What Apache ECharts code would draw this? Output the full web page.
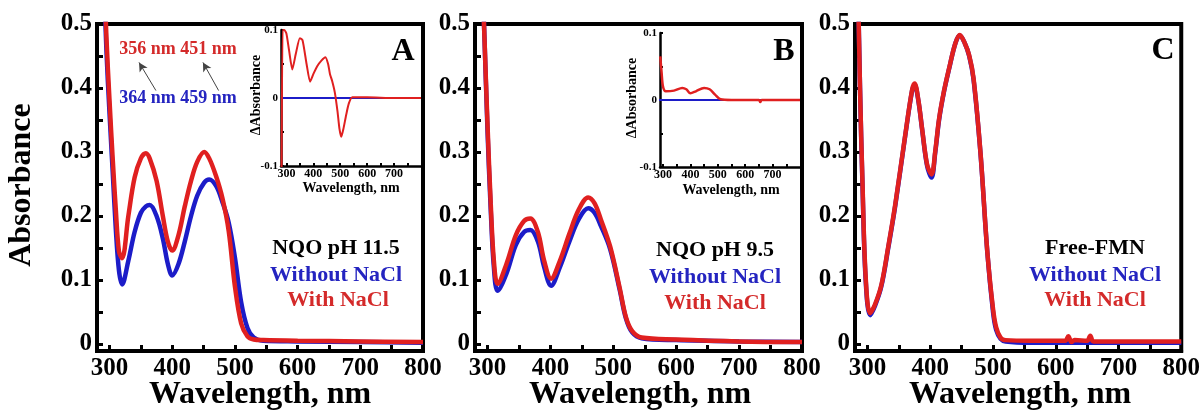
<!DOCTYPE html>
<html>
<head>
<meta charset="utf-8">
<script src="https://cdn.jsdelivr.net/npm/echarts@6/dist/echarts.min.js"></script>
<style>
  html, body { margin: 0; padding: 0; background: #fff; }
  #container { width: 1203px; height: 413px; }
</style>
</head>
<body>
<div id="container"></div>
<script>
var dom = document.getElementById("container");
var myChart = echarts.init(dom);
var FONT = '"Liberation Serif", "Times New Roman", serif';
var RED = '#e02020', BLUE = '#1c1cc8';

// panel A : NQO pH 11.5
var aWl   = [290,295,300,305,310,315,320,330,340,350,358,364,375,385,393,400,410,420,430,440,451,459,470,480,490,500,510,520,530,545,600,700,800];
var aBlue = [0.6,0.46,0.36,0.27,0.18,0.115,0.093,0.13,0.175,0.205,0.215,0.217,0.2,0.165,0.125,0.107,0.125,0.16,0.2,0.232,0.252,0.257,0.247,0.222,0.19,0.135,0.065,0.025,0.01,0.005,0.004,0.003,0.002];
var aRed  = [0.62,0.48,0.38,0.29,0.21,0.145,0.134,0.2,0.26,0.29,0.298,0.29,0.255,0.2,0.16,0.146,0.17,0.215,0.255,0.285,0.3,0.29,0.262,0.228,0.177,0.09,0.032,0.012,0.007,0.006,0.005,0.004,0.003];

// panel B : NQO pH 9.5
var bWl   = [290,295,300,305,310,316,330,345,358,368,380,390,401,415,430,445,460,470,480,495,510,520,530,545,600,700,800];
var bBlue = [0.62,0.48,0.33,0.21,0.12,0.083,0.11,0.155,0.175,0.178,0.16,0.12,0.091,0.12,0.16,0.195,0.212,0.205,0.185,0.148,0.085,0.04,0.018,0.009,0.006,0.004,0.003];
var bRed  = [0.62,0.48,0.34,0.22,0.13,0.094,0.125,0.17,0.192,0.196,0.175,0.13,0.102,0.13,0.172,0.21,0.229,0.22,0.195,0.152,0.088,0.042,0.02,0.01,0.007,0.004,0.003];

// panel C : free FMN
var cWl   = [284,288,292,297,304,312,322,333,344,360,371,375,381,387,395,402,408,414,422,430,440,447,455,462,469,480,491,500,505,512,520,560,615,620,625,630,650,655,660,700,800];
var cBlue = [0.6,0.4,0.245,0.1,0.045,0.06,0.09,0.15,0.215,0.325,0.396,0.405,0.38,0.335,0.278,0.26,0.3,0.35,0.395,0.43,0.47,0.482,0.47,0.45,0.413,0.298,0.142,0.05,0.022,0.008,0.004,0.002,0.002,0.002,0.002,0.002,0.002,0.002,0.002,0.002,0.002];
var cRed  = [0.6,0.4,0.25,0.105,0.048,0.062,0.092,0.152,0.217,0.326,0.397,0.407,0.381,0.336,0.28,0.265,0.302,0.352,0.396,0.431,0.47,0.483,0.47,0.451,0.415,0.299,0.143,0.055,0.026,0.01,0.006,0.005,0.005,0.012,0.003,0.006,0.005,0.013,0.004,0.004,0.004];

// insets (difference spectra)
var insAWl  = [282,286,292,300,310,322,335,350,360,375,388,400,415,430,445,455,462,470,480,490,497,504,512,522,532,545,600,700,800];
var insARed = [-0.12,0.1,0.1,0.095,0.07,0.042,0.065,0.088,0.085,0.05,0.024,0.035,0.047,0.055,0.06,0.05,0.035,0.025,0.008,-0.02,-0.045,-0.057,-0.045,-0.025,-0.008,0.001,0.001,0,0];
var insBWl  = [290,295,300,310,340,370,385,400,420,450,470,490,510,550,650,655,660,800];
var insBRed = [0.065,0.04,0.02,0.013,0.014,0.018,0.016,0.01,0.013,0.018,0.016,0.008,0.001,0,0,-0.003,0,0];
var insZeroWl = [280, 800];
var insZero   = [0, 0];

// tick values
var mainXLabels = [300,400,500,600,700,800];
var mainXTicks  = [300,350,400,450,500,550,600,650,700,750,800];
var mainYLabels = [0,0.1,0.2,0.3,0.4,0.5];
var mainYTicks  = [0,0.05,0.1,0.15,0.2,0.25,0.3,0.35,0.4,0.45,0.5];
var insXLabels  = [300,400,500,600,700];
var insXTicks   = [300,350,400,450,500,550,600,650,700,750];
var insYLabels  = [-0.1,0,0.1];
var insYTicks   = [-0.1,-0.05,0,0.05,0.1];

// arrows in panel A: [from, to] in data units
var arrowsA = [[[374,0.396],[347,0.44]], [[474,0.396],[449,0.44]]];

function pairs(x, y) {
    return x.map(function (v, i) { return [v, y[i]]; });
}

function mainX(g) {
    return {
        type: 'value', gridIndex: g, min: 280, max: 800,
        axisLine: {onZero: false, lineStyle: {color: '#000', width: 4}},
        axisTick: {inside: true, length: 6, customValues: mainXTicks, lineStyle: {color: '#000', width: 3}},
        axisLabel: {customValues: mainXLabels, color: '#000', fontFamily: FONT, fontWeight: 'bold', fontSize: 25, margin: 5},
        splitLine: {show: false}
    };
}
function mainY(g) {
    return {
        type: 'value', gridIndex: g, min: -0.011, max: 0.5,
        axisLine: {onZero: false, lineStyle: {color: '#000', width: 4}},
        axisTick: {inside: true, length: 6, customValues: mainYTicks, lineStyle: {color: '#000', width: 3}},
        axisLabel: {customValues: mainYLabels, color: '#000', fontFamily: FONT, fontWeight: 'bold', fontSize: 25, margin: 5,
            formatter: function (v) { return String(+v.toFixed(2)); }},
        splitLine: {show: false}
    };
}
function insX(g, mn) {
    return {
        type: 'value', gridIndex: g, min: mn, max: 800,
        axisLine: {onZero: false, lineStyle: {color: '#000', width: 2.5}},
        axisTick: {inside: true, length: 3, customValues: insXTicks, lineStyle: {color: '#000', width: 2}},
        axisLabel: {customValues: insXLabels, color: '#000', fontFamily: FONT, fontWeight: 'bold', fontSize: 12, margin: 2},
        splitLine: {show: false}
    };
}
function insY(g) {
    return {
        type: 'value', gridIndex: g, min: -0.1, max: 0.1,
        axisLine: {onZero: false, lineStyle: {color: '#000', width: 2.5}},
        axisTick: {inside: true, length: 3, customValues: insYTicks, lineStyle: {color: '#000', width: 2}},
        axisLabel: {customValues: insYLabels, color: '#000', fontFamily: FONT, fontWeight: 'bold', fontSize: 11, margin: 3,
            formatter: function (v) { return String(+v.toFixed(2)); }},
        splitLine: {show: false}
    };
}
function line(g, x, y, color, w, extra) {
    var s = {
        type: 'line', xAxisIndex: g, yAxisIndex: g, data: pairs(x, y),
        showSymbol: false, symbol: 'none', smooth: 0.35, clip: true,
        lineStyle: {color: color, width: w}, itemStyle: {color: color}, z: 3
    };
    if (extra) for (var k in extra) s[k] = extra[k];
    return s;
}
function txt(x, y, text, size, color, rot) {
    return {
        type: 'text', x: x, y: y, rotation: rot || 0, z: 10,
        style: {text: text, fill: color || '#000', font: 'bold ' + size + 'px ' + FONT, align: 'center', verticalAlign: 'middle'}
    };
}

var frame = {show: true, borderColor: '#000', borderWidth: 4, backgroundColor: 'transparent'};
var insetBox = {show: true, borderWidth: 0, backgroundColor: '#fff'};

option = {
    backgroundColor: '#fff',
    animation: false,
    grid: [
        Object.assign({left: 97, top: 24, width: 326, height: 327}, frame),
        Object.assign({left: 475, top: 24, width: 327, height: 327}, frame),
        Object.assign({left: 855, top: 24, width: 328, height: 327}, frame),
        Object.assign({left: 281, top: 30, width: 140, height: 136}, insetBox),
        Object.assign({left: 660, top: 33, width: 140, height: 134}, insetBox)
    ],
    xAxis: [mainX(0), mainX(1), mainX(2), insX(3, 280), insX(4, 289)],
    yAxis: [mainY(0), mainY(1), mainY(2), insY(3), insY(4)],
    series: [
        line(0, aWl, aBlue, BLUE, 4.5, {
            markLine: {
                silent: true, symbol: ['none', 'arrow'], symbolSize: [7, 9],
                lineStyle: {color: '#444', width: 1, type: 'solid'}, label: {show: false},
                data: arrowsA.map(function (a) { return [{coord: a[0]}, {coord: a[1]}]; })
            }
        }),
        line(0, aWl, aRed, RED, 4.5),
        line(1, bWl, bBlue, BLUE, 4.5),
        line(1, bWl, bRed, RED, 4.5),
        line(2, cWl, cBlue, BLUE, 4.5),
        line(2, cWl, cRed, RED, 4.5),
        line(3, insZeroWl, insZero, BLUE, 2, {smooth: false}),
        line(3, insAWl, insARed, RED, 2, {smooth: 0.2}),
        line(4, insZeroWl, insZero, BLUE, 2, {smooth: false}),
        line(4, insBWl, insBRed, RED, 2.5, {smooth: 0.3})
    ],
    graphic: [
        txt(22, 185, 'Absorbance', 32, '#000', Math.PI / 2),
        txt(260, 395, 'Wavelength, nm', 32),
        txt(640, 395, 'Wavelength, nm', 32),
        txt(1020, 395, 'Wavelength, nm', 32),
        txt(403, 52, 'A', 32),
        txt(784, 52, 'B', 32),
        txt(1163, 51, 'C', 32),
        txt(178, 49, '356 nm 451 nm', 18, '#d42a2a'),
        txt(178, 98, '364 nm 459 nm', 18, '#2424c0'),
        txt(336, 248, 'NQO pH 11.5', 22),
        txt(336, 275, 'Without NaCl', 22, '#2424c0'),
        txt(338, 300, 'With NaCl', 22, '#d42a2a'),
        txt(715, 250, 'NQO pH 9.5', 22),
        txt(715, 277, 'Without NaCl', 22, '#2424c0'),
        txt(715, 303, 'With NaCl', 22, '#d42a2a'),
        txt(1095, 248, 'Free-FMN', 22),
        txt(1095, 275, 'Without NaCl', 22, '#2424c0'),
        txt(1095, 300, 'With NaCl', 22, '#d42a2a'),
        txt(256, 95, '\u0394Absorbance', 14, '#000', Math.PI / 2),
        txt(351, 188, 'Wavelength, nm', 14),
        txt(632, 98, '\u0394Absorbance', 14, '#000', Math.PI / 2),
        txt(731, 190, 'Wavelength, nm', 14)
    ]
};

if (option && typeof option === "object") {
    myChart.setOption(option, true);
}
</script>
</body>
</html>
